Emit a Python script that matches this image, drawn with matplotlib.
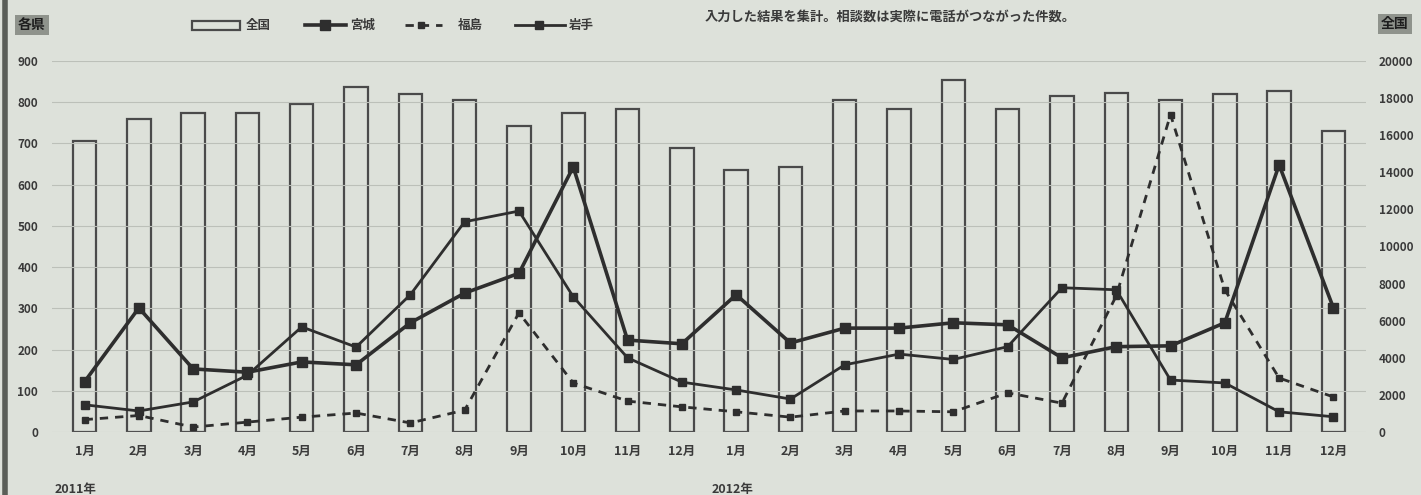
import matplotlib
matplotlib.use("Agg")
import matplotlib.pyplot as plt
from matplotlib.lines import Line2D
from matplotlib.patches import Rectangle
import numpy as np

plt.rcParams['font.family'] = ['Noto Sans CJK JP', 'DejaVu Sans']

# Monthly counts, Jan 2011 - Dec 2012
months = ['1月', '2月', '3月', '4月', '5月', '6月', '7月', '8月', '9月', '10月', '11月', '12月'] * 2
years = ['2011年', '2012年']

zenkoku = [15700, 16900, 17200, 17200, 17700, 18600, 18200, 17900, 16500, 17200, 17400, 15300,
           14100, 14300, 17900, 17400, 19000, 17400, 18100, 18300, 17900, 18200, 18400, 16200]
miyagi = [122, 301, 153, 145, 170, 163, 265, 337, 385, 643, 223, 214,
          333, 216, 252, 252, 265, 260, 180, 207, 209, 265, 648, 301]
fukushima = [30, 40, 12, 24, 36, 46, 22, 53, 289, 119, 75, 61,
             49, 36, 51, 51, 49, 95, 70, 330, 770, 345, 131, 85]
iwate = [66, 51, 73, 138, 255, 206, 333, 510, 536, 328, 180, 121,
         102, 80, 163, 189, 176, 207, 350, 345, 126, 119, 49, 37]

left_ticks = np.arange(0, 901, 100)
right_ticks = np.arange(0, 20001, 2000)

bg = '#dde1da'
ink = '#2e2e2e'
text_c = '#3a3a3a'

W, H = 1421, 495
fig = plt.figure(figsize=(W / 100, H / 100), dpi=100, facecolor=bg)

def fx(px):
    return px / W

def fy(py):
    return 1 - py / H

ax_bar = fig.add_axes([fx(52), fy(432), fx(1366) - fx(52), fy(61) - fy(432)])
ax_bar.set_facecolor(bg)
ax_line = ax_bar.twinx()

x = np.arange(len(months))

# nationwide totals as open bars on the right-hand scale
ax_bar.bar(x, zenkoku, width=0.43, facecolor=bg, edgecolor='#4a4a4a', linewidth=1.6, zorder=2)
ax_bar.set_ylim(0, 20000)
ax_bar.set_yticks(right_ticks)
ax_bar.yaxis.tick_right()
ax_bar.tick_params(axis='y', length=0, pad=9, labelsize=8.5, labelcolor=text_c)
for lab in ax_bar.get_yticklabels():
    lab.set_fontweight('bold')

ax_bar.set_xlim(-0.6, len(months) - 0.4)
ax_bar.set_xticks(x)
ax_bar.set_xticklabels(months, fontsize=9, color=text_c, fontweight='bold')
ax_bar.tick_params(axis='x', length=0, pad=9)

# prefecture lines on the left-hand scale
ax_line.plot(x, miyagi, color=ink, lw=2.6, marker='s', ms=7, zorder=5)
ax_line.plot(x, fukushima, color=ink, lw=2.0, ls=(0, (3, 2.5)), marker='s', ms=5, zorder=4)
ax_line.plot(x, iwate, color=ink, lw=2.0, marker='s', ms=5.5, zorder=4)
ax_line.set_ylim(0, 900)
ax_line.set_yticks(left_ticks)
ax_line.yaxis.tick_left()
ax_line.tick_params(axis='y', length=0, pad=10, labelsize=8.5, labelcolor=text_c)
for lab in ax_line.get_yticklabels():
    lab.set_fontweight('bold')
ax_line.grid(axis='y', color='#bcc0b9', lw=0.8)
ax_line.set_axisbelow(True)

for a in (ax_bar, ax_line):
    for s in a.spines.values():
        s.set_visible(False)

# year captions under the month labels
fig.text(fx(55), fy(489), years[0], fontsize=9, color=text_c, fontweight='bold', va='center')
fig.text(fx(712), fy(489), years[1], fontsize=9, color=text_c, fontweight='bold', va='center')

# axis headers
box = dict(boxstyle='square,pad=0.25', facecolor='#8f938c', edgecolor='none')
fig.text(fx(32), fy(25), '各県', fontsize=10, color='#1e1e1e', fontweight='bold',
         ha='center', va='center', bbox=box)
fig.text(fx(1395), fy(24), '全国', fontsize=10, color='#1e1e1e', fontweight='bold',
         ha='center', va='center', bbox=box)

# legend row
fig.patches.append(Rectangle((fx(192), fy(30)), fx(48), fy(21) - fy(30),
                             transform=fig.transFigure, facecolor=bg, edgecolor='#4a4a4a', lw=1.6))
fig.text(fx(246), fy(25), '全国', fontsize=9, color=text_c, fontweight='bold', va='center')

fig.lines.append(Line2D([fx(305), fx(346)], [fy(25), fy(25)], transform=fig.transFigure,
                        color=ink, lw=2.6))
fig.lines.append(Line2D([fx(325)], [fy(25)], transform=fig.transFigure,
                        color=ink, marker='s', ms=7, ls='none'))
fig.text(fx(350), fy(25), '宮城', fontsize=9, color=text_c, fontweight='bold', va='center')

fig.lines.append(Line2D([fx(405), fx(442)], [fy(25), fy(25)], transform=fig.transFigure,
                        color=ink, lw=2.0, ls=(0, (3, 2.5))))
fig.lines.append(Line2D([fx(421)], [fy(25)], transform=fig.transFigure,
                        color=ink, marker='s', ms=5, ls='none'))
fig.text(fx(458), fy(25), '福島', fontsize=9, color=text_c, fontweight='bold', va='center')

fig.lines.append(Line2D([fx(515), fx(565)], [fy(25), fy(25)], transform=fig.transFigure,
                        color=ink, lw=2.0))
fig.lines.append(Line2D([fx(539)], [fy(25)], transform=fig.transFigure,
                        color=ink, marker='s', ms=5.5, ls='none'))
fig.text(fx(569), fy(25), '岩手', fontsize=9, color=text_c, fontweight='bold', va='center')

fig.text(fx(705), fy(17), '入力した結果を集計。相談数は実際に電話がつながった件数。',
         fontsize=9.5, color=text_c, fontweight='bold', va='center')

# dark rule along the left edge
fig.lines.append(Line2D([fx(5), fx(5)], [0, 1], transform=fig.transFigure, color='#5a5e58', lw=4))

fig.savefig('out.png', dpi=100, facecolor=bg)
